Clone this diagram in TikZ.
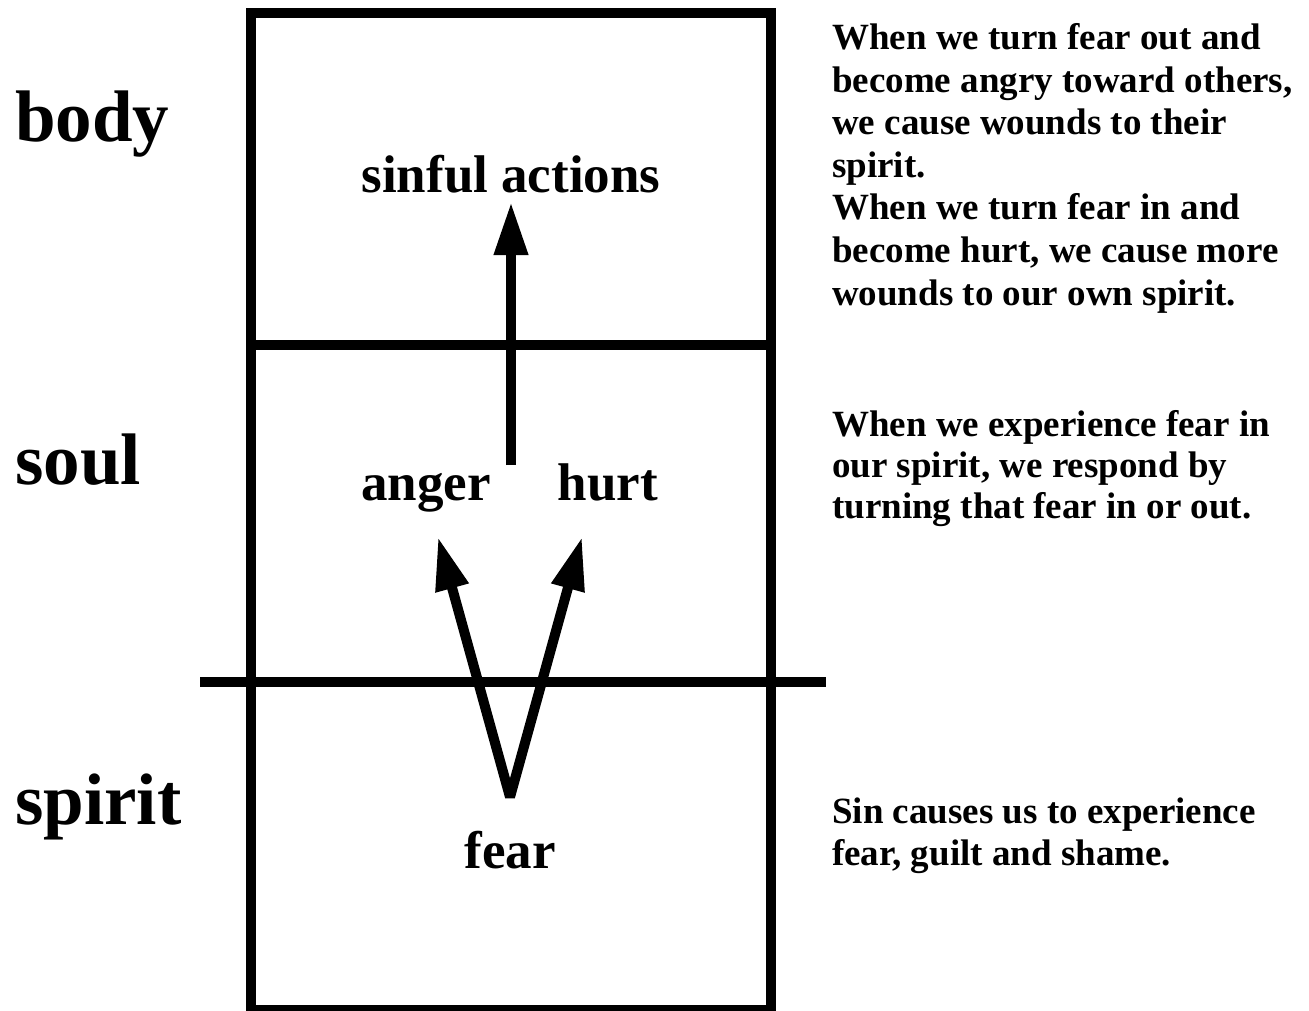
\documentclass[tikz,border=0pt]{standalone}
\usepackage{fontspec}
\setmainfont{Liberation Serif}
\usetikzlibrary{arrows.meta}
\begin{document}
\begin{tikzpicture}[x=1pt,y=-1pt,
  frame/.style={line width=10pt},
  arr/.style={line width=10pt,-{Triangle[length=53pt,width=32pt]}},
  big/.style={anchor=base west,inner sep=0pt,font=\fontsize{73}{80}\selectfont\bfseries},
  mid/.style={anchor=base,inner sep=0pt,font=\fontsize{53}{60}\selectfont\bfseries},
  note/.style={anchor=base west,inner sep=0pt,font=\fontsize{37}{42}\selectfont\bfseries}]
\useasboundingbox (0,0) rectangle (1309,1011);
\fill[white] (0,0) rectangle (1309,1011);
% frame
\draw[frame] (251,13) rectangle (771,1010);
\coordinate (m1) at (251,345);
\coordinate (m2) at (771,345);
\draw[frame] (m1) -- (m2);
\coordinate (h1) at (200,682);
\coordinate (h2) at (826,682);
\draw[frame] (h1) -- (h2);
% left labels
\node[big] (lbody) at (15,142) {body};
\node[big] (lsoul) at (15,484) {soul};
\node[big] (lspirit) at (15,824) {spirit};
% middle labels
\node[mid] (sinful) at (511,193) {sinful actions};
\node[mid] (anger) at (426,500) {anger};
\node[mid] (hurt) at (608,500) {hurt};
\node[mid] (fear) at (510,868) {fear};
% arrows
\coordinate (s0) at (511,465);
\coordinate (s1) at (511,202);
\draw[arr] (s0) -- (s1);
\coordinate (v) at (510,797);
\coordinate (ta) at (438,537);
\coordinate (th) at (582,537);
\draw[line width=10pt,line join=bevel,{Triangle[length=53pt,width=32pt]}-{Triangle[length=53pt,width=32pt]}] (ta) -- (v) -- (th);
% right notes
\node[note] (n1) at (832,50) {When we turn fear out and};
\node[note] (n2) at (832,92.5) {become angry toward others,};
\node[note] (n3) at (832,135) {we cause wounds to their};
\node[note] (n4) at (832,177.5) {spirit.};
\node[note] (n5) at (832,220) {When we turn fear in and};
\node[note] (n6) at (832,262.5) {become hurt, we cause more};
\node[note] (n7) at (832,305) {wounds to our own spirit.};
\node[note] (n8) at (832,436) {When we experience fear in};
\node[note] (n9) at (832,477) {our spirit, we respond by};
\node[note] (n10) at (832,518) {turning that fear in or out.};
\node[note] (n11) at (832,823) {Sin causes us to experience};
\node[note] (n12) at (832,865) {fear, guilt and shame.};
\end{tikzpicture}
\end{document}
